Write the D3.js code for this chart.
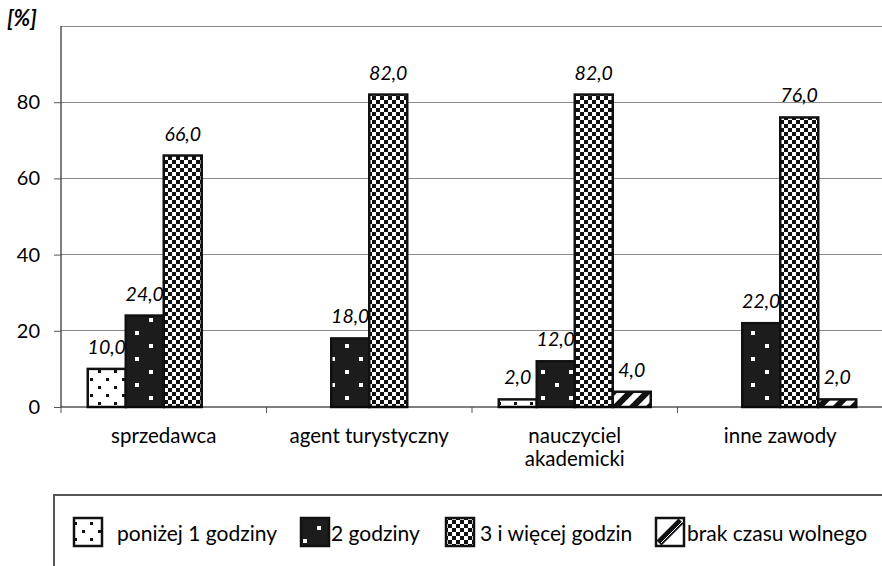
<!DOCTYPE html>
<html><head><meta charset="utf-8">
<script src="https://cdn.jsdelivr.net/npm/d3@7"></script>
<style>body{margin:0;background:#fff}svg{display:block}text{font-family:Lato,"Open Sans",sans-serif;fill:#000}</style>
</head><body><svg id="c" width="882" height="566"></svg>
<script>
// ---- data ----
const categories = ["sprzedawca", "agent turystyczny", "nauczyciel akademicki", "inne zawody"];
const seriesNames = ["poniżej 1 godziny", "2 godziny", "3 i więcej godzin", "brak czasu wolnego"];
const below1h = [10, 0, 2, 0];
const twoHours = [24, 18, 12, 22];
const threePlus = [66, 82, 82, 76];
const noFreeTime = [0, 0, 4, 2];
const yTickValues = [0, 20, 40, 60, 80];
const gridValues = [20, 40, 60, 80, 100];
const yUnit = "[%]";

const seriesValues = [below1h, twoHours, threePlus, noFreeTime];

// ---- layout ----
const W = 882, H = 566;
const svg = d3.select("#c");
const defs = svg.append("defs");

// patterns
const p1 = defs.append("pattern").attr("id","pat0").attr("patternUnits","userSpaceOnUse").attr("width",16).attr("height",16);
p1.append("rect").attr("width",16).attr("height",16).attr("fill","#fff");
p1.append("rect").attr("x",2).attr("y",2).attr("width",3).attr("height",3).attr("fill","#111");
p1.append("rect").attr("x",10).attr("y",10).attr("width",3).attr("height",3).attr("fill","#111");

const p2 = defs.append("pattern").attr("id","pat1").attr("patternUnits","userSpaceOnUse").attr("width",28).attr("height",26);
p2.append("rect").attr("width",28).attr("height",26).attr("fill","#1c1c1c");
p2.append("rect").attr("x",9).attr("y",6).attr("width",4).attr("height",4).attr("fill","#fff");
p2.append("rect").attr("x",23).attr("y",19).attr("width",4).attr("height",4).attr("fill","#fff");

const p3 = defs.append("pattern").attr("id","pat2").attr("patternUnits","userSpaceOnUse").attr("width",8).attr("height",8);
p3.append("rect").attr("width",8).attr("height",8).attr("fill","#111");
p3.append("rect").attr("width",4).attr("height",4).attr("fill","#fff");
p3.append("rect").attr("x",4).attr("y",4).attr("width",4).attr("height",4).attr("fill","#fff");

const p4 = defs.append("pattern").attr("id","pat3").attr("patternUnits","userSpaceOnUse").attr("width",12).attr("height",12).attr("patternTransform","rotate(45)");
p4.append("rect").attr("width",12).attr("height",12).attr("fill","#fff");
p4.append("rect").attr("width",6).attr("height",12).attr("fill","#111");

const x = d3.scaleBand().domain(categories).range([61, 883]).paddingInner(0).paddingOuter(0);
const xs = d3.scaleBand().domain(d3.range(seriesNames.length)).range([0, x.bandwidth()]).paddingInner(0).paddingOuter(0.704);
const y = d3.scaleLinear().domain([0, 100]).range([407, 26]);

// gridlines
svg.append("g").selectAll("line").data(gridValues).join("line")
  .attr("x1", x.range()[0]).attr("x2", W)
  .attr("y1", d => y(d)).attr("y2", d => y(d))
  .attr("stroke", "#8a8a8a").attr("stroke-width", 1).attr("shape-rendering","crispEdges");

// y axis
const yAxis = svg.append("g").attr("transform", `translate(${x.range()[0]},0)`)
  .call(d3.axisLeft(y).tickValues(yTickValues).tickSize(7).tickPadding(14).tickFormat(d3.format("d")));
yAxis.select(".domain").attr("stroke","#000").attr("d", `M0,${y(0)}V${y(100)}`);
yAxis.selectAll(".tick line").attr("stroke","#555");
yAxis.selectAll(".tick text").attr("font-size", 20).attr("font-family","Lato,sans-serif").attr("fill","#000");

svg.append("text").attr("x", 7).attr("y", 26).attr("font-size", 22).attr("font-weight","bold")
  .attr("font-style","italic").text(yUnit);

// bars
const flat = [];
categories.forEach((c, ci) => seriesValues.forEach((arr, si) => {
  if (arr[ci] > 0) flat.push({c, si, v: arr[ci]});
}));
svg.append("g").selectAll("rect").data(flat).join("rect")
  .attr("x", d => x(d.c) + xs(d.si))
  .attr("y", d => y(d.v))
  .attr("width", xs.bandwidth())
  .attr("height", d => y(0) - y(d.v))
  .attr("fill", d => `url(#pat${d.si})`)
  .attr("stroke", "#111").attr("stroke-width", 2.5);

// value labels
const fmt = v => d3.format(".1f")(v).replace(".", ",");
svg.append("g").selectAll("text").data(flat).join("text")
  .attr("x", d => x(d.c) + xs(d.si) + xs.bandwidth()/2)
  .attr("y", d => y(d.v) - 15)
  .attr("text-anchor","middle").attr("font-size", 19.5).attr("font-style","italic")
  .text(d => fmt(d.v));

// baseline + category ticks
svg.append("line").attr("x1", x.range()[0]).attr("x2", W).attr("y1", y(0)).attr("y2", y(0))
  .attr("stroke","#000").attr("stroke-width",1.2);
const bounds = categories.map(c => x(c)).concat([x.range()[1]]);
svg.append("g").selectAll("line").data(bounds).join("line")
  .attr("x1", d => d).attr("x2", d => d).attr("y1", y(0)).attr("y2", y(0) + 6)
  .attr("stroke","#555");

// category labels (wrap long ones)
const catG = svg.append("g").selectAll("text").data(categories).join("text")
  .attr("x", d => x(d) + x.bandwidth()/2).attr("y", 443)
  .attr("text-anchor","middle").attr("font-size", 20.5);
catG.each(function(d) {
  const lines = d.length > 18 ? d.split(" ") : [d];
  d3.select(this).selectAll("tspan").data(lines).join("tspan")
    .attr("x", x(d) + x.bandwidth()/2).attr("dy", (l, i) => i ? 23 : 0).text(l => l);
});

// legend
svg.append("rect").attr("x", 54).attr("y", 495).attr("width", 900).attr("height", 200)
  .attr("fill","none").attr("stroke","#555").attr("stroke-width",2);
const legSymX = [74, 301, 446, 656];
const legTxtX = [117, 331, 480, 687];
const S = 28;
const leg = svg.append("g").selectAll("g").data(seriesNames).join("g");
leg.append("rect").attr("x", (d,i) => legSymX[i]).attr("y", 518).attr("width", S).attr("height", S)
  .attr("fill", (d,i) => i === 3 ? "#fff" : `url(#pat${i})`).attr("stroke","#111").attr("stroke-width",2.5);
// diagonal symbol for "brak czasu wolnego"
leg.filter((d,i) => i === 3).each(function() {
  const g = d3.select(this), x0 = legSymX[3];
  g.append("line").attr("x1", x0 + 3).attr("y1", 518 + S - 3).attr("x2", x0 + S - 3).attr("y2", 521)
    .attr("stroke","#111").attr("stroke-width",7);
  g.append("line").attr("x1", x0 + 5).attr("y1", 518 + S - 3).attr("x2", x0 + S - 1).attr("y2", 521)
    .attr("stroke","#fff").attr("stroke-width",1);
});
leg.append("text").attr("x", (d,i) => legTxtX[i]).attr("y", 541).attr("font-size", 21).text(d => d);
</script></body></html>
